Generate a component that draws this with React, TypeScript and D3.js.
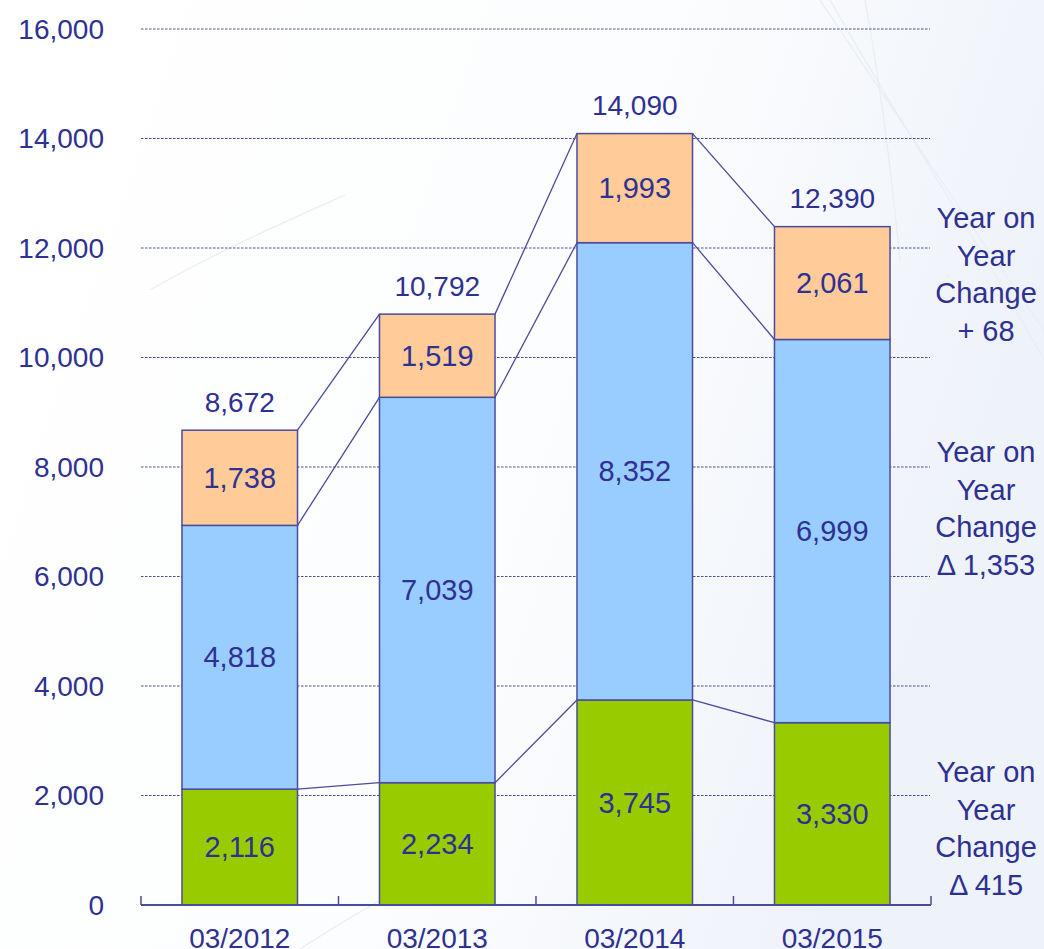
import React from 'react';
import * as d3 from 'd3';

const categories = ['03/2012', '03/2013', '03/2014', '03/2015'];
const greenValues = [2116, 2234, 3745, 3330];
const blueValues = [4818, 7039, 8352, 6999];
const orangeValues = [1738, 1519, 1993, 2061];
const totalValues = [8672, 10792, 14090, 12390];
const yTicks = [0, 2000, 4000, 6000, 8000, 10000, 12000, 14000, 16000];
const noteLines = ['Year on', 'Year', 'Change'];
const noteChanges = ['+ 68', 'Δ 1,353', 'Δ 415'];

const W = 1044;
const H = 949;
const TEXT = '#2E3192';
const STROKE = '#4B4B9E';
const FILLS = ['#99CC00', '#99CCFF', '#FFCC99'];
const FONT = 'Liberation Sans, Arial, sans-serif';

export default function App() {
  const x = d3.scaleBand<string>().domain(categories).range([141, 931]).paddingInner(0.415).paddingOuter(0.2075);
  const y = d3.scaleLinear().domain([0, 16000]).range([905, 29]);
  const fmt = d3.format(',');
  const series = [greenValues, blueValues, orangeValues];
  const stacks = categories.map((c, i) => {
    let acc = 0;
    return series.map((s) => {
      const y0 = acc;
      acc += s[i];
      return { y0, y1: acc, v: s[i] };
    });
  });
  const bw = x.bandwidth();
  const noteAnchors = [228, 462, 782];

  return (
    <svg width={W} height={H} style={{ position: 'absolute', left: 0, top: 0 }} fontFamily={FONT}>
      <defs>
        <linearGradient id="bg" x1="0" y1="0" x2="1" y2="0.3">
          <stop offset="0" stopColor="#ffffff" />
          <stop offset="0.6" stopColor="#fcfdfe" />
          <stop offset="1" stopColor="#eef2f9" />
        </linearGradient>
      </defs>
      <rect width={W} height={H} fill="url(#bg)" />
      <g fill="none" stroke="#e9edf5" strokeWidth={1.2}>
        <path d="M 820 0 C 900 120, 980 240, 1044 330" />
        <path d="M 830 0 C 910 140, 990 260, 1044 360" />
        <path d="M 865 0 C 880 80, 890 160, 900 260" />
        <path d="M 150 290 C 220 250, 300 215, 345 195" />
        <path d="M 300 949 C 330 930, 360 910, 400 890" />
      </g>
      {yTicks.filter((t) => t > 0).map((t) => (
        <line key={t} x1={141} x2={930} y1={y(t)} y2={y(t)} stroke={STROKE} strokeWidth={1} strokeDasharray="2.5,1.5" />
      ))}
      {yTicks.map((t) => (
        <text key={t} x={104} y={y(t)} dy="0.35em" textAnchor="end" fontSize={28} fill={TEXT}>
          {fmt(t)}
        </text>
      ))}
      {categories.slice(0, -1).map((c, i) =>
        stacks[i].map((s, k) => (
          <line
            key={`${c}-${k}`}
            x1={(x(c) as number) + bw}
            y1={y(s.y1)}
            x2={x(categories[i + 1]) as number}
            y2={y(stacks[i + 1][k].y1)}
            stroke={STROKE}
            strokeWidth={1.3}
          />
        ))
      )}
      {categories.map((c, i) => (
        <g key={c}>
          {stacks[i].map((s, k) => (
            <g key={k}>
              <rect x={x(c)} y={y(s.y1)} width={bw} height={y(s.y0) - y(s.y1)} fill={FILLS[k]} stroke={STROKE} strokeWidth={1.5} />
              <text x={(x(c) as number) + bw / 2} y={(y(s.y0) + y(s.y1)) / 2} dy="0.35em" textAnchor="middle" fontSize={29} fill={TEXT}>
                {fmt(s.v)}
              </text>
            </g>
          ))}
          <text x={(x(c) as number) + bw / 2} y={y(totalValues[i]) - 28} dy="0.35em" textAnchor="middle" fontSize={28} fill={TEXT}>
            {fmt(totalValues[i])}
          </text>
          <text x={(x(c) as number) + bw / 2} y={938} dy="0.35em" textAnchor="middle" fontSize={28} fill={TEXT}>
            {c}
          </text>
        </g>
      ))}
      <line x1={141} x2={931} y1={y(0)} y2={y(0)} stroke={STROKE} strokeWidth={1.8} />
      {categories.map((c) => (
        <line key={c} x1={(x(c) as number) - 41} x2={(x(c) as number) - 41} y1={y(0)} y2={y(0) - 9} stroke={STROKE} strokeWidth={1.5} />
      ))}
      <line x1={931} x2={931} y1={y(0)} y2={y(0) - 9} stroke={STROKE} strokeWidth={1.5} />
      {noteChanges.map((chg, j) => (
        <text key={j} x={986} y={noteAnchors[j]} textAnchor="middle" fontSize={29} fill={TEXT}>
          {[...noteLines, chg].map((l, li) => (
            <tspan key={li} x={986} dy={li === 0 ? 0 : 37.5}>
              {l}
            </tspan>
          ))}
        </text>
      ))}
    </svg>
  );
}
